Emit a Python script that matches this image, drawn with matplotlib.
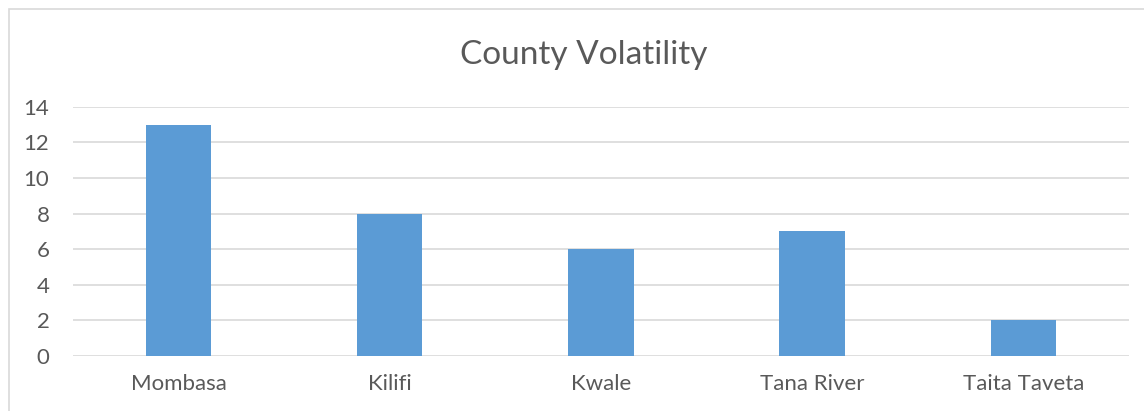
import numpy as np
import matplotlib.pyplot as plt
from matplotlib.patches import Rectangle

counties = ["Mombasa", "Kilifi", "Kwale", "Tana River", "Taita Taveta"]
volatility = [13, 8, 6, 7, 2]
y_ticks = [0, 2, 4, 6, 8, 10, 12, 14]

plt.rcParams['font.family'] = ['Lato', 'DejaVu Sans']
text_color = "#595959"

fig = plt.figure(figsize=(11.44, 4.11), dpi=100)
ax = fig.add_axes([0.0638, 0.134, 0.923, 0.606])

x = np.arange(len(counties))
ax.bar(x, volatility, width=0.31, color="#5b9bd5", zorder=3)

ax.set_xlim(-0.5, len(counties) - 0.5)
ax.set_ylim(0, 14)
ax.set_yticks(y_ticks)
ax.set_xticks(x)
ax.set_xticklabels(counties)
ax.tick_params(axis='both', length=0, labelsize=16, colors=text_color)
ax.tick_params(axis='y', pad=17)
ax.tick_params(axis='x', pad=13)
ax.grid(axis='y', color="#d9d9d9", linewidth=1.2, zorder=0)
for s in ax.spines.values():
    s.set_visible(False)

fig.text(0.51, 0.866, "County Volatility", ha='center', va='center',
         fontsize=24, color=text_color)

# outer chart border
fig.patches.append(Rectangle((9 / 1144, -0.1), 1.2, (411 - 9) / 411 + 0.1,
                             transform=fig.transFigure, fill=False,
                             edgecolor="#d9d9d9", linewidth=1.2))

fig.savefig("out.png", dpi=100)
